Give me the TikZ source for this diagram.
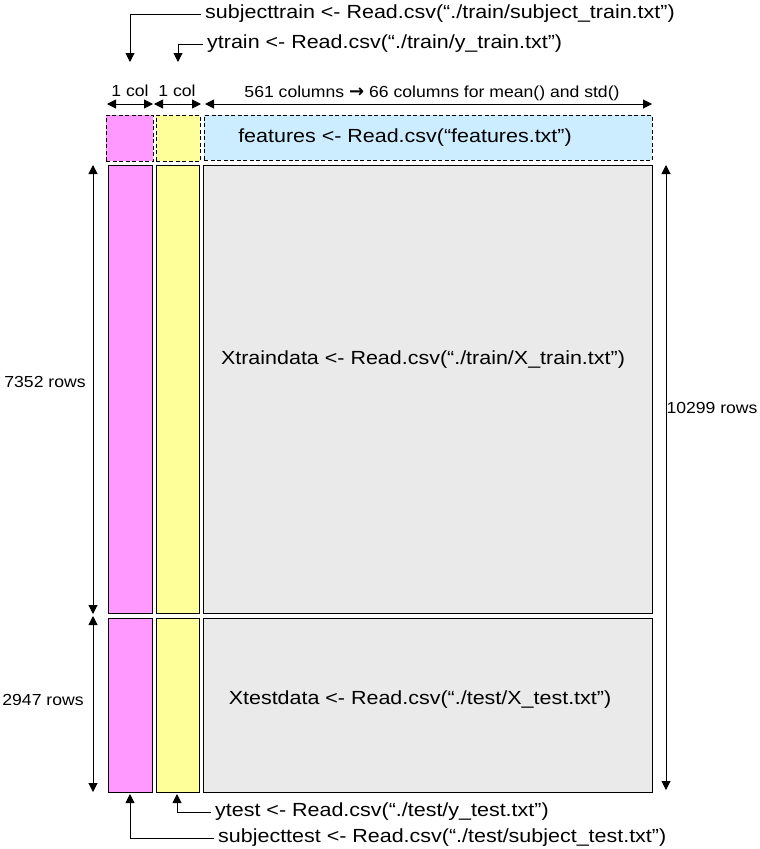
\documentclass[tikz,border=0pt]{standalone}
\usepackage{fontspec}
\setmainfont{Liberation Sans}
\newfontfamily\bigfont[FakeStretch=1.13]{Liberation Sans}
\newfontfamily\smallfont[FakeStretch=1.1]{Liberation Sans}
\newfontfamily\arrowfont{DejaVu Sans}
\usetikzlibrary{arrows.meta}
\definecolor{pinkc}{HTML}{FF99FF}
\definecolor{yellowc}{HTML}{FFFF99}
\definecolor{bluec}{HTML}{CCECFF}
\definecolor{grayc}{HTML}{EAEAEA}
\tikzset{
  cell/.style={draw=black, line width=1pt, anchor=north west, inner sep=0pt, outer sep=0pt},
  dcell/.style={cell, dash pattern=on 4pt off 2.5pt},
  big/.style={font=\bigfont\fontsize{19}{22}\selectfont, inner sep=0pt},
  small/.style={font=\smallfont\fontsize{16}{19}\selectfont, inner sep=0pt},
  tip/.style={-{Triangle[length=9pt,width=9pt]}},
  dim/.style={{Triangle[length=9pt,width=9pt]}-{Triangle[length=9pt,width=9pt]}, line width=1pt},
  conn/.style={tip, line width=1pt}
}
\begin{document}
\begin{tikzpicture}[x=1pt,y=-1pt]
\useasboundingbox (0,0) rectangle (760,849);
% top dashed row
\node[dcell, fill=pinkc, minimum width=47pt, minimum height=46pt] (ptop) at (106,115) {};
\node[dcell, fill=yellowc, minimum width=44pt, minimum height=46pt] (ytop) at (156,115) {};
\node[dcell, fill=bluec, minimum width=448pt, minimum height=45pt] (ftop) at (204,115) {};
\node[big] (ftext) at (405,138) {features <- Read.csv(“features.txt”)};
% train row
\node[cell, fill=pinkc, minimum width=44pt, minimum height=448pt] (p1) at (108,165) {};
\node[cell, fill=yellowc, minimum width=43pt, minimum height=448pt] (y1) at (156,165) {};
\node[cell, fill=grayc, minimum width=449pt, minimum height=448pt] (x1) at (203,165) {};
\node[big] (x1text) at (423,360) {Xtraindata <- Read.csv(“./train/X\_train.txt”)};
% test row
\node[cell, fill=pinkc, minimum width=44pt, minimum height=174pt] (p2) at (108,618) {};
\node[cell, fill=yellowc, minimum width=43pt, minimum height=174pt] (y2) at (156,618) {};
\node[cell, fill=grayc, minimum width=449pt, minimum height=174pt] (x2) at (203,618) {};
\node[big] (x2text) at (420,700) {Xtestdata <- Read.csv(“./test/X\_test.txt”)};
% column dimension lines
\coordinate (c1a) at (107,104); \coordinate (c1b) at (153,104);
\coordinate (c2a) at (154,104); \coordinate (c2b) at (201,104);
\coordinate (c3a) at (205,104); \coordinate (c3b) at (652,104);
\draw[dim] (c1a) -- (c1b);
\draw[dim] (c2a) -- (c2b);
\draw[dim] (c3a) -- (c3b);
\node[small] (l1) at (130,91) {1 col};
\node[small] (l2) at (177,91) {1 col};
\node[small] (l3) at (432,93) {561 columns {\arrowfont\bfseries\fontsize{18}{18}\selectfont →} 66 columns for mean() and std()};
% row dimension lines
\coordinate (r1a) at (93,165); \coordinate (r1b) at (93,614);
\coordinate (r2a) at (93,616); \coordinate (r2b) at (93,792);
\coordinate (r3a) at (666,165); \coordinate (r3b) at (666,790);
\draw[dim] (r1a) -- (r1b);
\draw[dim] (r2a) -- (r2b);
\draw[dim] (r3a) -- (r3b);
\node[small] (rl1) at (45,382) {7352 rows};
\node[small] (rl2) at (43,700) {2947 rows};
\node[small] (rl3) at (712,408) {10299 rows};
% top file connectors
\node[big, anchor=west] (stt) at (205,14) {subjecttrain <- Read.csv(“./train/subject\_train.txt”)};
\node[big, anchor=west] (ytt) at (207,44) {ytrain <- Read.csv(“./train/y\_train.txt”)};
\coordinate (sttend) at (130,62);
\coordinate (yttend) at (178,62);
\draw[conn] ([xshift=-4pt]stt.west) -| (sttend);
\draw[conn] ([xshift=-4pt]ytt.west) -| (yttend);
% bottom file connectors
\node[big, anchor=west] (yte) at (215,812) {ytest <- Read.csv(“./test/y\_test.txt”)};
\node[big, anchor=west] (ste) at (218,838) {subjecttest <- Read.csv(“./test/subject\_test.txt”)};
\coordinate (yteend) at (177,794);
\coordinate (steend) at (130,794);
\draw[conn] ([xshift=-4pt]yte.west) -| (yteend);
\draw[conn] ([xshift=-4pt]ste.west) -| (steend);
\end{tikzpicture}
\end{document}
